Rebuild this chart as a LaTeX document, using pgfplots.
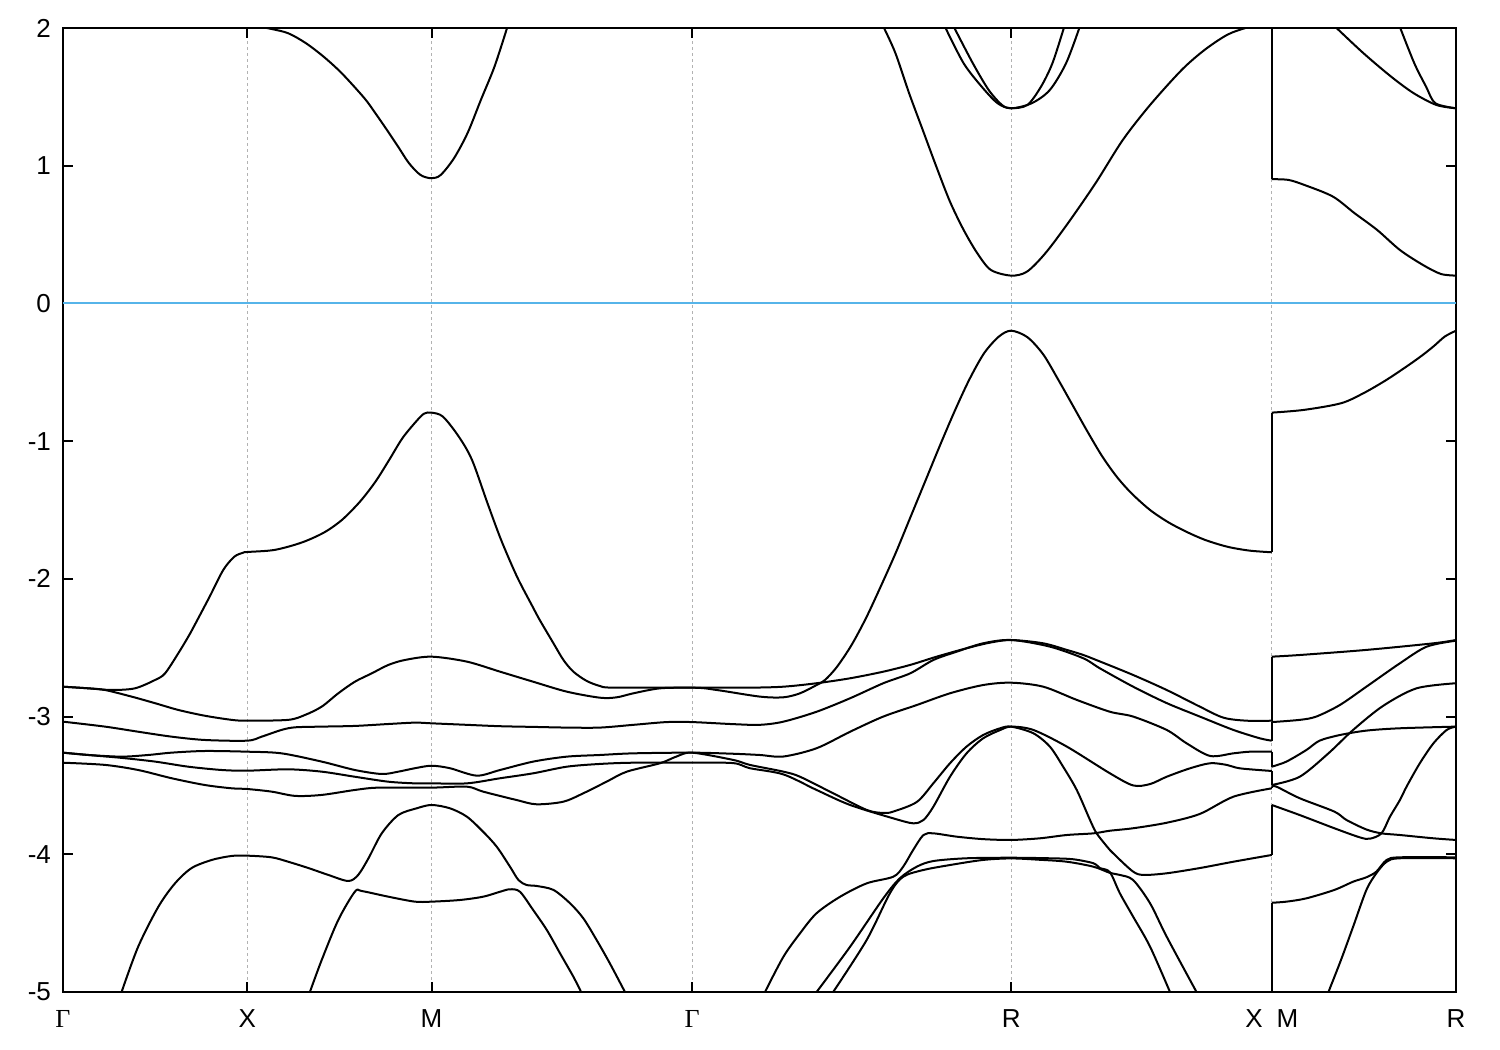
\documentclass[border=0pt]{standalone}
\usepackage{fontspec}
\setmainfont{Liberation Sans}
\newfontfamily\gammafont{Liberation Serif}
\usepackage{pgfplots}
\pgfplotsset{compat=1.18}
\definecolor{fermi}{RGB}{86,180,233}
\pgfplotsset{
  band/.style={black, line width=1pt, no markers, line join=round, smooth, tension=0.5},
  jump/.style={black, line width=1pt, no markers},
}
\begin{document}
\begin{tikzpicture}
\path[use as bounding box] (-31.5pt,-29pt) rectangle (718.5pt,496pt);
\begin{axis}[
  at={(0pt,0pt)}, anchor=south west,
  scale only axis, width=696.5pt, height=482pt,
  xmin=0, xmax=3.7802, ymin=-5, ymax=2,
  axis line style={line width=1pt},
  xtick={0,0.5,1,1.7071,2.5731,3.2802,3.7802},
  xticklabels={{\gammafont Γ},X,M,{\gammafont Γ},R,X\hspace{7pt}M,R},
  ytick={-5,...,2},
  tick pos=both,
  tick align=inside,
  major tick length=5pt,
  tick style={black, line width=1pt},
  xmajorgrids,
  grid style={gray!60, dash pattern=on 1.5pt off 1.5pt, line width=0.5pt},
  /pgf/number format/assume math mode=true,
  ticklabel style={font=\fontsize{13}{15}\selectfont},
  yticklabel style={xshift=-2.5pt},
  xticklabel style={yshift=-5.5pt},
]
% Fermi level
\addplot[fermi, line width=1pt, no markers] coordinates {(0,0) (3.7802,0)};

% conduction bands
\addplot[band] coordinates {(0.53,2.01) (0.562,1.995) (0.611,1.962) (0.659,1.89) (0.708,1.79) (0.757,1.67) (0.818,1.49) (0.848,1.38) (0.879,1.26) (0.909,1.14) (0.939,1.018) (0.970,0.933) (1.0,0.909) (1.025,0.933) (1.061,1.054) (1.098,1.238) (1.134,1.478) (1.171,1.72) (1.205,2.0)};
\addplot[band] coordinates {(2.228,2.0) (2.259,1.817) (2.296,1.527) (2.333,1.26) (2.370,0.993) (2.407,0.739) (2.444,0.534) (2.481,0.365) (2.518,0.243) (2.5731,0.202) (2.616,0.231) (2.666,0.365) (2.727,0.582) (2.802,0.873) (2.876,1.187) (2.950,1.441) (3.036,1.696) (3.098,1.841) (3.159,1.95) (3.209,2.0) (3.2802,2.05)};
\addplot[jump] coordinates {(3.2802,2.05) (3.2802,0.902)};
\addplot[band] coordinates {(3.2802,0.902) (3.325,0.897) (3.368,0.861) (3.446,0.776) (3.505,0.655) (3.566,0.534) (3.628,0.388) (3.690,0.280) (3.739,0.214) (3.7802,0.202)};
\addplot[band] coordinates {(2.395,2.0) (2.444,1.744) (2.493,1.574) (2.536,1.454) (2.5731,1.417) (2.629,1.454) (2.678,1.55) (2.722,1.744) (2.758,2.0)};
\addplot[band] coordinates {(2.419,2.0) (2.469,1.744) (2.512,1.55) (2.548,1.441) (2.5731,1.417) (2.617,1.441) (2.654,1.574) (2.685,1.744) (2.716,2.0)};
\addplot[band] coordinates {(3.456,2.0) (3.529,1.817) (3.604,1.647) (3.665,1.527) (3.727,1.441) (3.7802,1.417)};
\addplot[band] coordinates {(3.629,2.0) (3.667,1.744) (3.699,1.574) (3.724,1.454) (3.7802,1.417)};

% valence band 1
\addplot[band] coordinates {(0,-2.783) (0.069,-2.795) (0.132,-2.807) (0.195,-2.795) (0.250,-2.734) (0.277,-2.686) (0.313,-2.54) (0.340,-2.42) (0.355,-2.347) (0.398,-2.129) (0.435,-1.935) (0.465,-1.839) (0.489,-1.81) (0.5,-1.805) (0.574,-1.790) (0.647,-1.737) (0.708,-1.664) (0.757,-1.572) (0.806,-1.439) (0.848,-1.294) (0.885,-1.137) (0.921,-0.979) (0.958,-0.858) (0.98,-0.80) (1.0,-0.793) (1.031,-0.822) (1.074,-0.967) (1.110,-1.137) (1.152,-1.451) (1.189,-1.718) (1.232,-1.984) (1.274,-2.20) (1.294,-2.30) (1.331,-2.468) (1.358,-2.589) (1.385,-2.674) (1.421,-2.741) (1.457,-2.778) (1.493,-2.790) (1.7071,-2.790) (1.774,-2.807) (1.891,-2.855) (1.955,-2.86) (2.0,-2.831) (2.045,-2.771) (2.068,-2.734) (2.10,-2.64) (2.14,-2.48) (2.18,-2.28) (2.22,-2.05) (2.26,-1.81) (2.30,-1.55) (2.34,-1.29) (2.38,-1.03) (2.42,-0.78) (2.46,-0.55) (2.50,-0.36) (2.54,-0.24) (2.5731,-0.198) (2.617,-0.245) (2.66,-0.37) (2.70,-0.55) (2.74,-0.74) (2.78,-0.93) (2.82,-1.11) (2.86,-1.26) (2.90,-1.38) (2.95,-1.50) (3.00,-1.59) (3.05,-1.66) (3.10,-1.718) (3.16,-1.767) (3.22,-1.795) (3.2802,-1.807)};
\addplot[jump] coordinates {(3.2802,-1.807) (3.2802,-0.793)};
\addplot[band] coordinates {(3.2802,-0.793) (3.368,-0.773) (3.468,-0.725) (3.529,-0.652) (3.591,-0.556) (3.652,-0.447) (3.690,-0.374) (3.72,-0.31) (3.75,-0.24) (3.7802,-0.198)};

% valence band 2
\addplot[band] coordinates {(0,-2.783) (0.069,-2.795) (0.114,-2.807) (0.186,-2.855) (0.250,-2.903) (0.313,-2.952) (0.385,-2.994) (0.458,-3.024) (0.5,-3.03) (0.611,-3.024) (0.657,-2.988) (0.702,-2.928) (0.747,-2.831) (0.792,-2.747) (0.838,-2.686) (0.883,-2.625) (0.928,-2.589) (1.0,-2.565) (1.096,-2.601) (1.186,-2.674) (1.276,-2.747) (1.367,-2.819) (1.457,-2.863) (1.503,-2.86) (1.548,-2.831) (1.620,-2.795) (1.7071,-2.79) (1.864,-2.79) (1.955,-2.783) (2.045,-2.758) (2.136,-2.722) (2.226,-2.674) (2.299,-2.625) (2.371,-2.565) (2.452,-2.504) (2.516,-2.463) (2.5731,-2.444) (2.660,-2.468) (2.724,-2.516) (2.769,-2.553) (2.814,-2.60) (2.904,-2.698) (2.995,-2.807) (3.085,-2.928) (3.149,-3.008) (3.212,-3.03) (3.2802,-3.03)};
\addplot[jump] coordinates {(3.2802,-3.03) (3.2802,-2.565)};
\addplot[band] coordinates {(3.2802,-2.565) (3.356,-2.553) (3.537,-2.516) (3.719,-2.468) (3.7802,-2.444)};

% valence band 3
\addplot[band] coordinates {(0,-3.037) (0.114,-3.073) (0.204,-3.11) (0.295,-3.146) (0.385,-3.17) (0.5,-3.175) (0.539,-3.146) (0.593,-3.097) (0.630,-3.078) (0.702,-3.073) (0.792,-3.068) (0.883,-3.054) (0.955,-3.044) (1.0,-3.049) (1.096,-3.06) (1.186,-3.07) (1.276,-3.075) (1.367,-3.08) (1.457,-3.08) (1.548,-3.06) (1.638,-3.04) (1.7071,-3.04) (1.819,-3.055) (1.891,-3.06) (1.955,-3.037) (2.045,-2.965) (2.136,-2.867) (2.226,-2.758) (2.299,-2.686) (2.362,-2.589) (2.425,-2.529) (2.497,-2.468) (2.5731,-2.444) (2.678,-2.492) (2.769,-2.577) (2.814,-2.65) (2.904,-2.783) (2.995,-2.902) (3.085,-3.0) (3.176,-3.097) (3.248,-3.158) (3.2802,-3.175)};
\addplot[jump] coordinates {(3.2802,-3.175) (3.2802,-3.04)};
\addplot[band] coordinates {(3.2802,-3.04) (3.356,-3.024) (3.401,-3.0) (3.465,-2.916) (3.537,-2.783) (3.628,-2.613) (3.701,-2.492) (3.7802,-2.449)};

% valence band 4
\addplot[band] coordinates {(0,-3.262) (0.069,-3.279) (0.159,-3.291) (0.231,-3.279) (0.295,-3.262) (0.385,-3.25) (0.5,-3.255) (0.593,-3.267) (0.702,-3.327) (0.792,-3.388) (0.865,-3.417) (0.910,-3.40) (0.955,-3.375) (1.0,-3.357) (1.050,-3.375) (1.123,-3.429) (1.186,-3.388) (1.276,-3.327) (1.367,-3.291) (1.457,-3.279) (1.548,-3.267) (1.7071,-3.262) (1.819,-3.27) (1.891,-3.279) (1.955,-3.29) (2.045,-3.23) (2.136,-3.11) (2.226,-3.00) (2.317,-2.916) (2.407,-2.831) (2.497,-2.771) (2.5731,-2.754) (2.660,-2.783) (2.751,-2.879) (2.841,-2.965) (2.904,-3.0) (2.995,-3.097) (3.049,-3.194) (3.113,-3.286) (3.176,-3.267) (3.221,-3.255) (3.2802,-3.255)};
\addplot[jump] coordinates {(3.2802,-3.255) (3.2802,-3.364)};
\addplot[band] coordinates {(3.2802,-3.364) (3.320,-3.327) (3.374,-3.243) (3.410,-3.175) (3.465,-3.134) (3.537,-3.102) (3.628,-3.085) (3.7802,-3.073)};

% valence band 5
\addplot[band] coordinates {(0,-3.262) (0.069,-3.279) (0.159,-3.30) (0.250,-3.327) (0.340,-3.364) (0.431,-3.388) (0.5,-3.393) (0.611,-3.383) (0.702,-3.40) (0.792,-3.437) (0.883,-3.473) (0.955,-3.485) (1.0,-3.485) (1.096,-3.485) (1.186,-3.448) (1.276,-3.412) (1.367,-3.364) (1.457,-3.344) (1.548,-3.335) (1.7071,-3.335) (1.819,-3.338) (1.864,-3.375) (1.955,-3.42) (2.045,-3.533) (2.136,-3.642) (2.253,-3.739) (2.307,-3.775) (2.335,-3.751) (2.362,-3.654) (2.407,-3.437) (2.452,-3.267) (2.497,-3.158) (2.543,-3.098) (2.5731,-3.073) (2.633,-3.097) (2.724,-3.218) (2.841,-3.412) (2.904,-3.50) (2.950,-3.49) (2.995,-3.437) (3.058,-3.376) (3.113,-3.339) (3.158,-3.351) (3.194,-3.376) (3.2802,-3.395)};
\addplot[jump] coordinates {(3.2802,-3.395) (3.2802,-3.497)};
\addplot[band] coordinates {(3.2802,-3.497) (3.356,-3.437) (3.434,-3.267) (3.501,-3.097) (3.582,-2.923) (3.673,-2.795) (3.7802,-2.758)};

% valence band 6
\addplot[band] coordinates {(0,-3.335) (0.114,-3.351) (0.204,-3.388) (0.295,-3.448) (0.385,-3.497) (0.458,-3.521) (0.5,-3.526) (0.566,-3.545) (0.630,-3.576) (0.702,-3.569) (0.792,-3.533) (0.856,-3.516) (1.0,-3.516) (1.096,-3.509) (1.140,-3.545) (1.231,-3.606) (1.285,-3.637) (1.358,-3.618) (1.412,-3.557) (1.475,-3.473) (1.530,-3.40) (1.620,-3.339) (1.665,-3.29) (1.7071,-3.262) (1.819,-3.315) (1.864,-3.351) (1.955,-3.40) (2.0,-3.437) (2.090,-3.557) (2.181,-3.678) (2.226,-3.70) (2.253,-3.69) (2.317,-3.62) (2.362,-3.484) (2.407,-3.339) (2.452,-3.218) (2.497,-3.134) (2.543,-3.085) (2.5731,-3.073) (2.633,-3.121) (2.678,-3.218) (2.714,-3.364) (2.751,-3.533) (2.787,-3.751) (2.805,-3.848) (2.841,-3.969) (2.859,-4.017) (2.904,-4.126) (2.932,-4.15) (2.995,-4.138) (3.085,-4.10) (3.176,-4.054) (3.2802,-4.005)};
\addplot[jump] coordinates {(3.2802,-4.005) (3.2802,-3.642)};
\addplot[band] coordinates {(3.2802,-3.642) (3.356,-3.715) (3.450,-3.811) (3.519,-3.877) (3.546,-3.887) (3.578,-3.848) (3.601,-3.727) (3.628,-3.606) (3.646,-3.509) (3.682,-3.339) (3.719,-3.194) (3.755,-3.097) (3.7802,-3.073)};

% lower bands
\addplot[band] coordinates {(0.159,-5.0) (0.204,-4.671) (0.259,-4.38) (0.304,-4.211) (0.349,-4.10) (0.404,-4.041) (0.458,-4.012) (0.5,-4.01) (0.566,-4.022) (0.611,-4.054) (0.666,-4.10) (0.720,-4.15) (0.774,-4.194) (0.801,-4.15) (0.829,-4.029) (0.865,-3.848) (0.910,-3.715) (0.960,-3.666) (1.0,-3.642) (1.050,-3.666) (1.096,-3.727) (1.140,-3.836) (1.177,-3.945) (1.213,-4.09) (1.236,-4.187) (1.258,-4.223) (1.285,-4.23) (1.331,-4.259) (1.376,-4.356) (1.412,-4.465) (1.448,-4.622) (1.484,-4.792) (1.525,-5.0)};
\addplot[band] coordinates {(0.670,-5.0) (0.702,-4.768) (0.747,-4.477) (0.792,-4.272) (0.811,-4.267) (0.883,-4.308) (0.955,-4.344) (1.0,-4.344) (1.077,-4.332) (1.140,-4.308) (1.186,-4.272) (1.213,-4.254) (1.240,-4.272) (1.276,-4.405) (1.313,-4.55) (1.349,-4.72) (1.385,-4.889) (1.406,-5.0)};
\addplot[band] coordinates {(1.905,-5.0) (1.955,-4.744) (2.0,-4.574) (2.045,-4.428) (2.109,-4.308) (2.181,-4.211) (2.253,-4.163) (2.280,-4.09) (2.307,-3.969) (2.335,-3.86) (2.362,-3.848) (2.425,-3.872) (2.497,-3.89) (2.5731,-3.896) (2.651,-3.884) (2.724,-3.86) (2.796,-3.848) (2.841,-3.829) (2.904,-3.811) (2.995,-3.771) (3.085,-3.707) (3.176,-3.582) (3.2802,-3.521)};
\addplot[jump] coordinates {(3.2802,-3.521) (3.2802,-3.51)};
\addplot[band] coordinates {(3.2802,-3.51) (3.293,-3.509) (3.356,-3.593) (3.450,-3.69) (3.483,-3.751) (3.537,-3.82) (3.578,-3.848) (3.628,-3.86) (3.719,-3.884) (3.7802,-3.896)};
\addplot[band] coordinates {(2.045,-5.0) (2.136,-4.671) (2.226,-4.32) (2.271,-4.174) (2.317,-4.09) (2.362,-4.049) (2.452,-4.029) (2.5731,-4.025) (2.678,-4.029) (2.741,-4.036) (2.796,-4.065) (2.814,-4.10) (2.841,-4.13) (2.868,-4.283) (2.904,-4.453) (2.950,-4.671) (3.004,-5.0)};
\addplot[band] coordinates {(2.090,-5.0) (2.181,-4.622) (2.244,-4.283) (2.280,-4.163) (2.335,-4.114) (2.407,-4.078) (2.497,-4.041) (2.5731,-4.03) (2.651,-4.04) (2.724,-4.054) (2.796,-4.09) (2.841,-4.135) (2.868,-4.15) (2.904,-4.187) (2.950,-4.356) (2.995,-4.598) (3.076,-5.0)};
\addplot[jump] coordinates {(3.2802,-5.0) (3.2802,-4.352)};
\addplot[band] coordinates {(3.2802,-4.352) (3.320,-4.344) (3.374,-4.32) (3.450,-4.259) (3.501,-4.199) (3.537,-4.167) (3.564,-4.126) (3.592,-4.041) (3.628,-4.022) (3.7802,-4.022)};
\addplot[band] coordinates {(3.434,-5.0) (3.468,-4.768) (3.501,-4.526) (3.537,-4.259) (3.564,-4.138) (3.592,-4.054) (3.628,-4.029) (3.7802,-4.029)};
\end{axis}
\end{tikzpicture}
\end{document}
